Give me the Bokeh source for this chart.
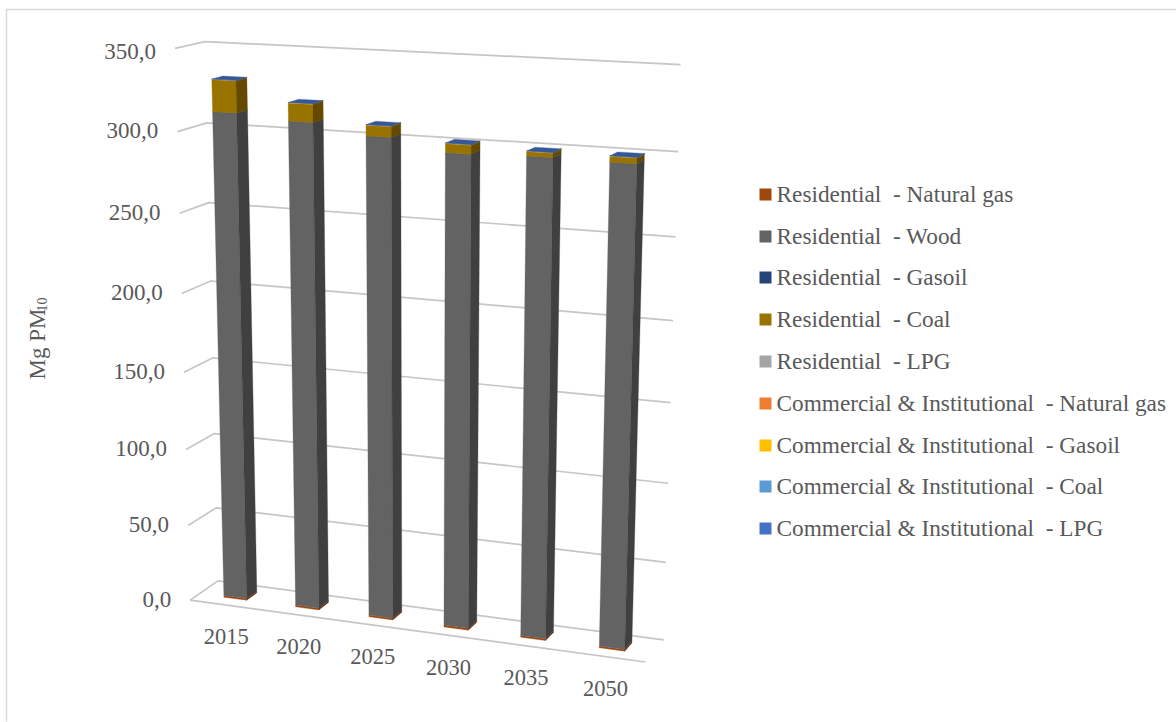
import numpy as np
from bokeh.core.properties import value
from bokeh.embed import file_html
from bokeh.models import ColumnDataSource, Range1d
from bokeh.plotting import figure
from bokeh.resources import INLINE

years = ["2015", "2020", "2025", "2030", "2035", "2050"]
value_ticks = [0, 50, 100, 150, 200, 250, 300, 350]

# Stack order runs from the floor upwards.
series_names = [
    "Residential  - Natural gas",
    "Residential  - Wood",
    "Residential  - Gasoil",
    "Residential  - Coal",
    "Residential  - LPG",
    "Commercial & Institutional  - Natural gas",
    "Commercial & Institutional  - Gasoil",
    "Commercial & Institutional  - Coal",
    "Commercial & Institutional  - LPG",
]
series_colors = ["#9E480E", "#636363", "#264478", "#997300", "#A5A5A5",
                 "#ED7D31", "#FFC000", "#5B9BD5", "#4472C4"]

res_natural_gas = [1.2, 1.2, 1.2, 1.2, 1.2, 1.2]
res_wood = [310.0, 307.0, 301.0, 294.0, 295.0, 294.5]
res_gasoil = [0.1, 0.1, 0.1, 0.1, 0.1, 0.1]
res_coal = [19.5, 11.0, 6.5, 5.5, 2.8, 3.5]
res_lpg = [0.05, 0.05, 0.05, 0.05, 0.05, 0.05]
com_natural_gas = [0.1, 0.1, 0.1, 0.1, 0.1, 0.1]
com_gasoil = [0.05, 0.05, 0.05, 0.05, 0.05, 0.05]
com_coal = [0.0, 0.0, 0.0, 0.0, 0.0, 0.0]
com_lpg = [0.1, 0.1, 0.1, 0.1, 0.1, 0.1]

series_values = [res_natural_gas, res_wood, res_gasoil, res_coal, res_lpg,
                 com_natural_gas, com_gasoil, com_coal, com_lpg]

TEXT_COLOR = "#595959"
SERIF = "Liberation Serif"

# Perspective camera: (category, depth, value) -> page pixels, calibrated
# from the corners of the plot box.
box_corners = [
    ((0, 0, 0), (190, 600)), ((6, 0, 0), (645, 661)),
    ((0, 1, 0), (217, 580)), ((6, 1, 0), (663, 640)),
    ((0, 0, 350), (174, 48)),
    ((0, 1, 350), (205, 41)), ((6, 1, 350), (680, 64)),
]


def solve_camera(corners):
    rows, rhs = [], []
    for (c, d, v), (x, y) in corners:
        v = v / 350
        rows.append([c, d, v, 1, 0, 0, 0, 0, -x * c, -x * d, -x * v])
        rhs.append(x)
        rows.append([0, 0, 0, 0, c, d, v, 1, -y * c, -y * d, -y * v])
        rhs.append(y)
    m = np.linalg.lstsq(np.array(rows, float), np.array(rhs, float), rcond=None)[0]
    return np.append(m, 1.0).reshape(3, 4)


CAMERA = solve_camera(box_corners)


def project(c, d, v):
    px, py, w = CAMERA @ np.array([c, d, v / 350, 1.0])
    return px / w, py / w


def shade(hex_color, factor):
    r, g, b = (int(hex_color[i:i + 2], 16) for i in (1, 3, 5))
    return "#%02x%02x%02x" % (int(r * factor), int(g * factor), int(b * factor))


p = figure(width=1176, height=722, x_range=Range1d(0, 1176), y_range=Range1d(722, 0),
           output_backend="svg", toolbar_location=None, min_border=0,
           outline_line_color=None, background_fill_color="white")
p.axis.visible = False
p.grid.visible = False

# Chart frame
p.line([6, 6, 1176], [721, 9, 9], line_color="#D9D9D9", line_width=1.4)

# Gridlines on the side wall and back wall
for t in value_ticks:
    pts = [project(0, 0, t), project(0, 1, t), project(6, 1, t)]
    p.line([q[0] for q in pts], [q[1] for q in pts], line_color="#C6C6C6", line_width=1.7)

# Floor edges
floor = [project(0, 0, 0), project(6, 0, 0)]
p.line([q[0] for q in floor], [q[1] for q in floor], line_color="#C6C6C6", line_width=1.7)

# Column solids
BAR_LEFT, BAR_RIGHT = 0.35, 0.67
BAR_FRONT, BAR_BACK = 0.32, 0.70
xs, ys, fills = [], [], []


def add_face(corners, color):
    pts = [project(*k) for k in corners]
    xs.append([q[0] for q in pts])
    ys.append([q[1] for q in pts])
    fills.append(color)


for i in range(len(years)):
    left, right = i + BAR_LEFT, i + BAR_RIGHT
    base = 0.0
    top_color = series_colors[0]
    for vals, color in zip(series_values, series_colors):
        h = vals[i]
        if h <= 0:
            continue
        top = base + h
        add_face([(left, BAR_FRONT, base), (right, BAR_FRONT, base),
                  (right, BAR_FRONT, top), (left, BAR_FRONT, top)], color)
        add_face([(right, BAR_FRONT, base), (right, BAR_BACK, base),
                  (right, BAR_BACK, top), (right, BAR_FRONT, top)], shade(color, 0.65))
        base = top
        top_color = color
    add_face([(left, BAR_FRONT, base), (right, BAR_FRONT, base),
              (right, BAR_BACK, base), (left, BAR_BACK, base)], shade(top_color, 0.78))

p.patches("xs", "ys", source=ColumnDataSource(dict(xs=xs, ys=ys, fill=fills)),
          fill_color="fill", line_color="fill", line_width=0.3)

# Value labels along the front edge of the side wall; the topmost sits a little lower
tick_pts = [project(0, 0, t) for t in value_ticks]
tick_nudge = [3 if t == 350 else -1 for t in value_ticks]
p.text([q[0] - 19 for q in tick_pts], [q[1] + n for q, n in zip(tick_pts, tick_nudge)],
       text=[f"{t:.1f}".replace(".", ",") for t in value_ticks],
       text_font=value(SERIF), text_font_size="23px", text_color=TEXT_COLOR,
       text_align="right", text_baseline="middle")

# Year labels under the front edge of the floor
year_pts = [project(i + 0.5, 0, 0) for i in range(len(years))]
p.text([q[0] + 0.5 for q in year_pts], [q[1] + 32 for q in year_pts], text=years,
       text_font=value(SERIF), text_font_size="22.5px", text_color=TEXT_COLOR,
       text_align="center", text_baseline="middle")

# Rotated axis title with a subscript
p.text([37], [379], text=["Mg PM"], angle=np.pi / 2, text_font=value(SERIF),
       text_font_size="23px", text_color=TEXT_COLOR, text_align="left", text_baseline="middle")
p.text([41], [311], text=["10"], angle=np.pi / 2, text_font=value(SERIF),
       text_font_size="14px", text_color=TEXT_COLOR, text_align="left", text_baseline="middle")

# Legend
legend_y = [194, 236, 277, 319, 361, 403, 445, 486, 528]
p.rect([765] * 9, legend_y, width=12, height=12, fill_color=series_colors, line_color=None)
p.text([776] * 9, [y - 1 for y in legend_y],
       text=[n.replace("  ", "\u00a0\u00a0") for n in series_names],
       text_font=value(SERIF), text_font_size="23.3px", text_color=TEXT_COLOR,
       text_align="left", text_baseline="middle")

open("out.html", "w").write(file_html(p, INLINE))
